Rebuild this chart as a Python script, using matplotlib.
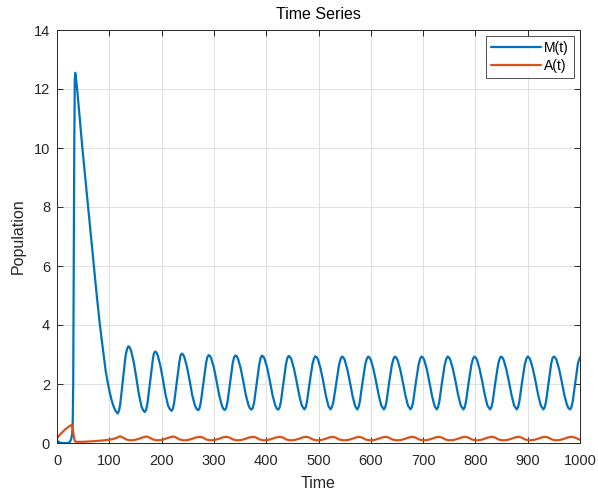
import matplotlib
matplotlib.use("Agg")
import matplotlib.pyplot as plt

# ---------------- data ----------------
m_time = [
    0, 3, 6, 10, 15, 20, 24, 27, 29, 30, 31, 32, 33, 34, 34.8, 35.8, 37, 38.5,
    43.5, 48.5, 54, 59.5, 65, 70.5, 76, 82, 89, 93, 97.5, 101, 104, 107, 110, 113,
    116, 118.5, 121, 126, 131, 134, 136.5, 139, 141.5, 146.5, 151.5, 156.5, 161.5, 165,
    168, 170.5, 173, 178, 183, 185, 187.5, 190, 192.5, 197.5, 202.5, 207.5, 212.5, 216,
    219, 221.5, 224, 229, 234, 236, 238.5, 241, 243.5, 248.5, 253.5, 258.5, 263.5, 267,
    270, 272.5, 275, 280, 285, 287.5, 290, 292.5, 295, 300, 305, 310, 315, 318,
    321, 323.5, 326, 331, 336, 338.5, 341, 343.5, 346, 351, 356, 361, 366, 369,
    372, 374.5, 377, 382, 387, 389.5, 392, 394.5, 397, 402, 407, 412, 417, 420,
    423, 425.5, 428, 433, 438, 440.5, 443, 445.5, 448, 453, 458, 463, 468,
    473, 475.5, 478, 483, 488.5, 491.5, 494, 496.5, 499, 504, 509, 514, 519,
    523, 525.5, 528.5, 534, 539.5, 542.5, 545, 547.5, 550, 555, 560, 565, 570,
    574, 576.5, 579, 584, 589.5, 592.5, 595, 597.5, 600, 605, 610, 615, 620,
    625, 627.5, 630, 635, 640.5, 643.5, 646, 648.5, 651, 656, 661, 666, 671,
    676, 678.5, 681, 686, 691.5, 694.5, 697, 699.5, 702, 707, 712, 717, 722,
    726, 728.5, 731, 736, 741.5, 744.5, 747, 749.5, 752, 757, 762, 767, 772,
    777, 779.5, 782, 787, 792.5, 795.5, 798, 800.5, 803, 808, 813, 818, 823,
    828, 830.5, 833, 838, 843.5, 846.5, 849, 851.5, 854, 859, 864, 869, 874,
    879, 881.5, 884, 889, 894.5, 897.5, 900, 902.5, 905, 910, 915, 920, 925,
    930, 932.5, 935, 940, 945, 947.5, 950, 952.5, 955, 960, 965, 970, 975, 978,
    981, 983.5, 986, 991, 996, 1000,
]
m_value = [
    0.08, 0.04, 0.01, 0.0, 0.0, 0.0, 0.02, 0.12, 0.3, 0.6, 2.0, 6.0, 10.0, 12.3, 12.55, 12.45, 12.25, 12.0,
    11.0, 10.0, 9.0, 8.0, 7.0, 6.0, 5.0, 4.0, 3.0, 2.45, 2.0, 1.7, 1.48, 1.3, 1.16, 1.06,
    1.00, 1.09, 1.33, 2.14, 2.95, 3.19, 3.28, 3.24, 3.14, 2.76, 2.23, 1.66, 1.24, 1.10,
    1.05, 1.13, 1.35, 2.08, 2.80, 3.02, 3.10, 3.07, 2.98, 2.63, 2.16, 1.64, 1.26, 1.14,
    1.09, 1.16, 1.37, 2.06, 2.75, 2.96, 3.03, 3.00, 2.91, 2.58, 2.13, 1.63, 1.28, 1.16,
    1.11, 1.18, 1.38, 2.05, 2.71, 2.91, 2.98, 2.95, 2.86, 2.55, 2.11, 1.63, 1.28, 1.16,
    1.12, 1.19, 1.39, 2.05, 2.71, 2.90, 2.97, 2.94, 2.86, 2.55, 2.11, 1.63, 1.29, 1.17,
    1.13, 1.20, 1.39, 2.05, 2.70, 2.89, 2.96, 2.93, 2.85, 2.54, 2.10, 1.63, 1.29, 1.17,
    1.13, 1.20, 1.39, 2.04, 2.69, 2.88, 2.95, 2.92, 2.84, 2.53, 2.10, 1.63, 1.27,
    1.14, 1.21, 1.40, 2.04, 2.68, 2.87, 2.94, 2.91, 2.83, 2.52, 2.09, 1.61, 1.25,
    1.14, 1.21, 1.40, 2.04, 2.67, 2.86, 2.93, 2.90, 2.82, 2.51, 2.07, 1.60, 1.25,
    1.14, 1.21, 1.40, 2.04, 2.67, 2.86, 2.93, 2.90, 2.82, 2.51, 2.09, 1.63, 1.27,
    1.14, 1.21, 1.40, 2.04, 2.67, 2.86, 2.93, 2.90, 2.82, 2.51, 2.09, 1.63, 1.27,
    1.14, 1.21, 1.40, 2.04, 2.67, 2.86, 2.93, 2.90, 2.82, 2.51, 2.07, 1.60, 1.25,
    1.14, 1.21, 1.40, 2.04, 2.67, 2.86, 2.93, 2.90, 2.82, 2.51, 2.09, 1.63, 1.27,
    1.14, 1.21, 1.40, 2.04, 2.67, 2.86, 2.93, 2.90, 2.82, 2.51, 2.09, 1.63, 1.27,
    1.14, 1.21, 1.40, 2.04, 2.67, 2.86, 2.93, 2.90, 2.82, 2.51, 2.09, 1.63, 1.27,
    1.14, 1.21, 1.40, 2.04, 2.67, 2.86, 2.93, 2.90, 2.82, 2.51, 2.09, 1.63, 1.27,
    1.14, 1.21, 1.40, 2.04, 2.70, 2.88, 2.93, 2.90, 2.82, 2.51, 2.09, 1.63, 1.30, 1.18,
    1.14, 1.21, 1.40, 2.04, 2.70, 2.91,
]

a_time = [
    0, 5, 10, 15, 20, 25, 28, 30, 32, 34, 36, 50, 70, 90, 100, 110, 116,
    120.5, 126.5, 132.5, 140, 148, 156, 164,
    171.5, 177.5, 183.5, 191, 199, 207, 215,
    222.5, 228.5, 234.5, 242, 250, 258, 266,
    273.5, 279.5, 285.5, 293, 301, 309, 317,
    324.5, 330.5, 336.5, 344, 352, 360, 368,
    375.5, 381.5, 387.5, 395, 403, 411, 419,
    426.5, 432.5, 438.5, 446, 454, 462, 470,
    477, 483, 489, 497, 505, 513, 521,
    527.5, 533.5, 539.5, 548, 556, 564, 572,
    578, 584, 590, 598, 606, 614, 622,
    629, 635, 641, 649, 657, 665, 673,
    680, 686, 692, 700, 708, 716, 724,
    730.5, 736.5, 742.5, 750, 758, 766, 774,
    781, 787, 793, 801, 809, 817, 825,
    832, 838, 844, 852, 860, 868, 876,
    883, 889, 895, 903, 911, 919, 927,
    934, 940, 946, 953, 961, 969, 977,
    985, 991, 997, 1000,
]
a_value = [
    0.16, 0.27, 0.36, 0.45, 0.52, 0.58, 0.62, 0.50, 0.25, 0.06, 0.04, 0.04, 0.06, 0.09, 0.11, 0.15, 0.19,
    0.23, 0.18, 0.12, 0.09, 0.10, 0.14, 0.19,
    0.22, 0.18, 0.12, 0.09, 0.10, 0.14, 0.19,
    0.22, 0.18, 0.12, 0.09, 0.10, 0.14, 0.19,
    0.21, 0.18, 0.12, 0.09, 0.10, 0.14, 0.19,
    0.21, 0.18, 0.12, 0.09, 0.10, 0.14, 0.19,
    0.21, 0.18, 0.12, 0.09, 0.10, 0.14, 0.19,
    0.21, 0.18, 0.12, 0.09, 0.10, 0.14, 0.19,
    0.21, 0.18, 0.12, 0.09, 0.10, 0.14, 0.19,
    0.21, 0.18, 0.12, 0.09, 0.10, 0.14, 0.19,
    0.21, 0.18, 0.12, 0.09, 0.10, 0.14, 0.19,
    0.21, 0.18, 0.12, 0.09, 0.10, 0.14, 0.19,
    0.21, 0.18, 0.12, 0.09, 0.10, 0.14, 0.19,
    0.21, 0.18, 0.12, 0.09, 0.10, 0.14, 0.19,
    0.21, 0.18, 0.12, 0.09, 0.10, 0.14, 0.19,
    0.21, 0.18, 0.12, 0.09, 0.10, 0.14, 0.19,
    0.21, 0.18, 0.12, 0.09, 0.10, 0.14, 0.19,
    0.21, 0.18, 0.12, 0.09, 0.10, 0.14, 0.19,
    0.21, 0.18, 0.13, 0.11,
]

x_ticks = [0, 100, 200, 300, 400, 500, 600, 700, 800, 900, 1000]
y_ticks = [0, 2, 4, 6, 8, 10, 12, 14]
series_labels = ["M(t)", "A(t)"]
title_text = "Time Series"
x_label = "Time"
y_label = "Population"

# ---------------- styling ----------------
plt.rcParams["font.family"] = ["Liberation Sans", "DejaVu Sans"]
dark = "#262626"

fig = plt.figure(figsize=(5.98, 4.94), dpi=100)
ax = fig.add_axes([57 / 598, 1 - 443 / 494, (580 - 57) / 598, (443 - 30) / 494])

ax.plot(m_time, m_value, color="#0072BD", lw=1.6, label=series_labels[0],
        solid_joinstyle="round", solid_capstyle="round")
ax.plot(a_time, a_value, color="#D95319", lw=1.6, label=series_labels[1],
        solid_joinstyle="round", solid_capstyle="round")

ax.set_xlim(0, 1000)
ax.set_ylim(0, 14)
ax.set_xticks(x_ticks)
ax.set_yticks(y_ticks)
ax.grid(True, color="#e0e0e0", lw=0.7)
ax.set_axisbelow(True)
ax.tick_params(direction="in", top=True, right=True, length=4, width=0.7,
               colors=dark, labelsize=10.5)
ax.tick_params(axis="x", pad=8)
ax.tick_params(axis="y", pad=5)
for s in ax.spines.values():
    s.set_color(dark)
    s.set_linewidth(0.7)

ax.set_xlabel(x_label, fontsize=11.5, color=dark, labelpad=6)
ax.set_ylabel(y_label, fontsize=11.5, color=dark, labelpad=6)
ax.set_title(title_text, fontsize=11.5, color="black", pad=8)

leg = ax.legend(loc="upper right", fontsize=10, frameon=True, fancybox=False,
                edgecolor=dark, handlelength=3.6, handletextpad=0.25,
                borderpad=0.35, labelspacing=0.3, borderaxespad=0.45)
leg.get_frame().set_linewidth(0.7)

fig.savefig("out.png", dpi=100)
